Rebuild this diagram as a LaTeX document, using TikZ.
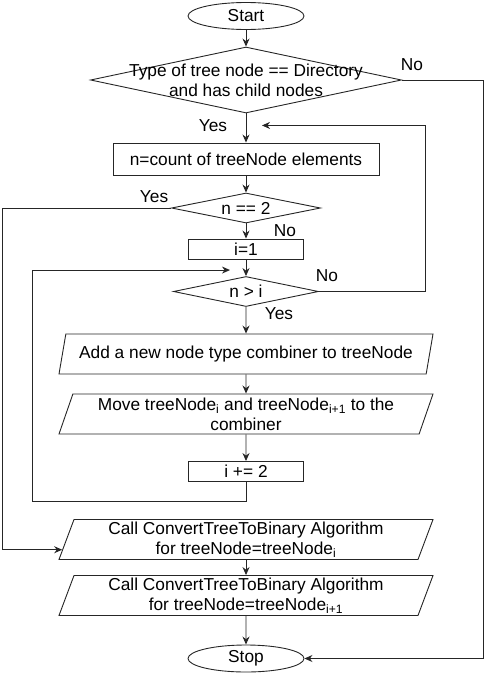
\documentclass[tikz,border=0pt]{standalone}
\usepackage{fontspec}
\setmainfont{Liberation Sans}
\usepackage{tikz}
\usetikzlibrary{shapes.geometric, arrows.meta, calc, positioning}
\tikzstyle{startstop} = [ellipse, minimum width=116pt, minimum height=27pt, inner sep=0pt, draw=black!85, line width=0.9pt]
\tikzstyle{process} = [rectangle, minimum width=115pt, minimum height=20pt, inner sep=0pt, text centered, draw=black!85, line width=0.9pt]
\tikzstyle{decision} = [diamond, aspect=5, minimum height=30pt, inner sep=0pt, text centered, draw=black!85, line width=0.9pt]
\tikzstyle{io} = [trapezium, trapezium left angle=67, trapezium right angle=113, trapezium stretches body=true, minimum width=374pt, minimum height=40pt, inner sep=0pt, align=center, draw=black!85, line width=0.9pt]
\tikzstyle{arrow} = [line width=0.9pt, draw=black!85, -{Stealth[length=8pt,width=7pt]}]
\tikzstyle{lbl} = [inner sep=0pt]

\begin{document}
\begin{tikzpicture}[x=1pt, y=1pt, font=\fontsize{17.3}{20}\selectfont]
\useasboundingbox (0,0) rectangle (484,-675);

% Nodes
\node (start) [startstop] at (246,-16) {Start};
\node (dec1) [decision, minimum width=311pt, minimum height=66pt, node distance=64pt, below of=start] {};
\node (dec1text) [align=center] at (dec1) {Type of tree node == Directory\\and has child nodes};
\node (count) [process, minimum width=266pt, minimum height=32pt, node distance=79pt, below of=dec1] {n=count of treeNode elements};
\node (dec2) [decision, minimum width=149pt, node distance=49pt, below of=count] {n == 2};
\node (init) [process, node distance=41pt, below of=dec2] {i=1};
\node (dec3) [decision, minimum width=145pt, node distance=42.5pt, below of=init] {n > i};
\node (add) [io, node distance=62.5pt, below of=dec3] {Add a new node type combiner to treeNode};
\node (move) [io, node distance=60pt, below of=add] {Move treeNode\textsubscript{i} and treeNode\textsubscript{i+1} to the\\combiner};
\node (incr) [process, node distance=57.5pt, below of=move] {i += 2};
\node (call1) [io, node distance=68pt, below of=incr] {Call ConvertTreeToBinary Algorithm\\for treeNode=treeNode\textsubscript{i}};
\node (call2) [io, node distance=56pt, below of=call1] {Call ConvertTreeToBinary Algorithm\\for treeNode=treeNode\textsubscript{i+1}};
\node (stop) [startstop, node distance=63pt, below of=call2] {Stop};

% Free ends
\coordinate (backin) at ($(dec1.south)+(16,-12)$);
\coordinate (loopin) at ($(dec3.north)+(-16,6)$);
\coordinate (callin) at ($(call1.bottom left corner)!0.25!(call1.top left corner)$);

% Arrows
\draw [arrow] (start.south) -- (dec1.north);
\draw [arrow] (dec1.south) -- (count.north);
\draw [arrow] (count.south) -- (dec2.north);
\draw [arrow] (dec2.south) -- (init.north);
\draw [arrow] (init.south) -- (dec3.north);
\draw [arrow] (dec3.south) -- (add.north);
\draw [arrow] (add.south) -- (move.north);
\draw [arrow] (move.south) -- (incr.north);
\draw [arrow] (call1.south) -- (call2.north);
\draw [arrow] (call2.south) -- (stop.north);

% Branches and loops
\draw [arrow] (dec1.east) -- ++(81,0) |- (stop.east);
\draw [arrow] (dec2.west) -- ++(-169,0) |- (callin);
\draw [arrow] (dec3.east) -- ++(106,0) |- (backin);
\draw [arrow] (incr.south) -- ++(0,-19) -- ++(-214,0) |- (loopin);

% Labels
\node (no1) [lbl] at ($(dec1.east)+(10,15)$) {No};
\node (yes1) [lbl] at ($(dec1.south)+(-33,-12)$) {Yes};
\node (yes2) [lbl] at ($(dec2.west)+(-17,11)$) {Yes};
\node (no2) [lbl] at ($(dec2.south)+(39,-7)$) {No};
\node (no3) [lbl] at ($(dec3.east)+(8,16)$) {No};
\node (yes3) [lbl] at ($(dec3.south)+(33,-7)$) {Yes};

\end{tikzpicture}
\end{document}
